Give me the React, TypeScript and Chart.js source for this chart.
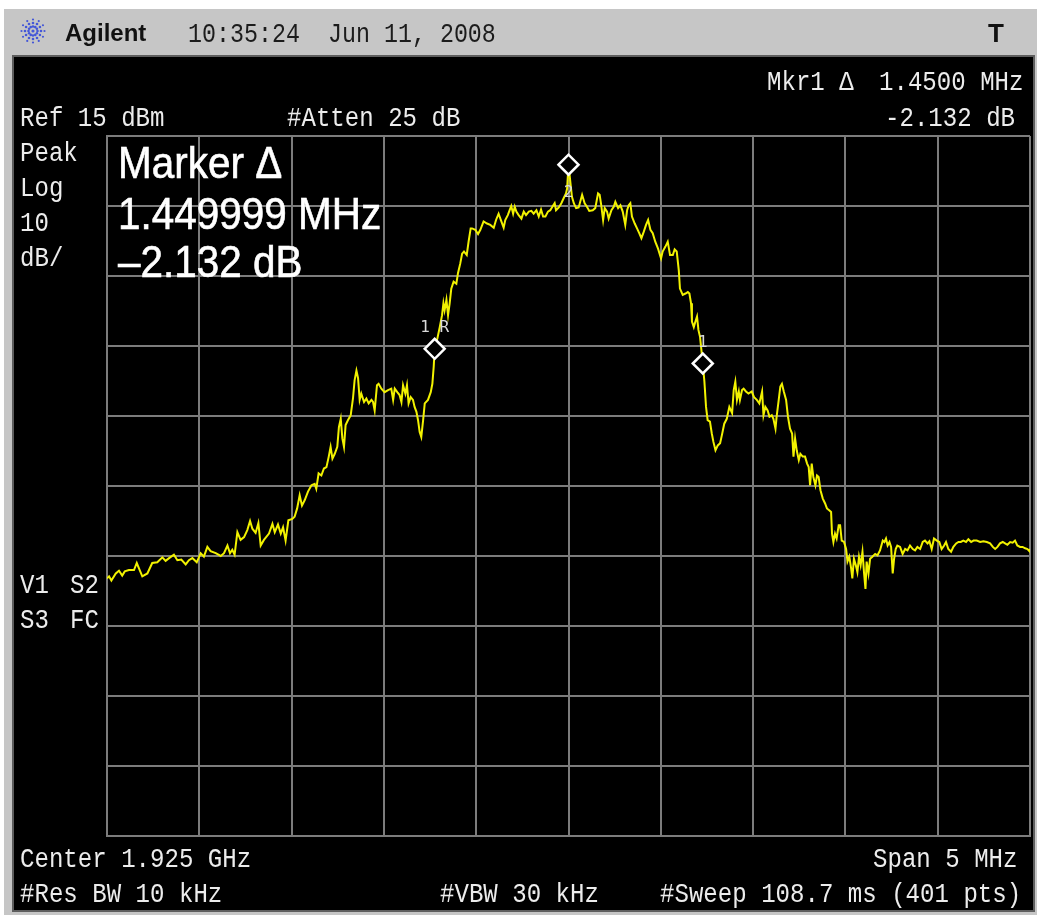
import React, { useEffect, useRef } from "react";
import { Chart, registerables } from "chart.js";

Chart.register(...registerables);

const tracePoint = [
  0, 0.9, 1.9, 3.8, 5.2, 6.6, 7.7, 9.5, 11.7, 12.9, 13.9, 15.3, 17.5, 19.6, 21.8, 24.0, 25.4, 26.9, 29.0, 30.5,
  32.2, 34.1, 35.5, 37.0, 38.9, 40.6, 42.0, 43.5, 44.9, 47.1, 49.3, 50.7, 52.2, 53.3, 54.3, 55.3, 56.5, 57.9, 59.4, 60.8,
  62.0, 63.0, 64.4, 65.6, 66.6, 68.0, 70.2, 71.7, 72.7, 74.1, 75.3, 76.3, 77.4, 78.6, 80.3,
  81.3, 82.4, 83.5, 84.5, 85.7, 87.1, 88.6, 90.0, 90.7, 91.7, 92.9, 94.0, 95.1, 96.1, 96.9, 97.7, 98.7, 99.8, 100.5, 101.3,
  102.0, 102.7, 103.4, 104.4, 105.6, 106.6, 107.3, 108.1, 108.8, 109.5, 110.2, 111.4, 112.4, 113.4, 114.6, 115.3, 116.0, 117.0, 117.7, 118.9,
  120.3, 121.8, 123.2, 124.0, 124.7, 125.8, 126.8, 127.6, 128.3, 129.3, 130.0, 130.7, 131.6, 132.6, 133.3, 134.1, 134.8, 135.5, 136.2, 137.0,
  137.7, 139.1, 140.3, 141.0, 141.6, 142.0, 142.5, 143.2, 144.2, 145.2, 145.8, 146.3, 147.1, 147.8, 148.5, 149.2, 150.2, 151.4, 152.1, 153.1,
  153.9, 154.7, 155.9, 156.7, 157.6,
  158.2, 159.6, 160.8, 161.8, 163.2, 164.7, 166.1, 167.6, 168.6, 169.7, 170.9, 171.9, 172.6, 173.7, 174.5, 175.2, 176.0, 176.7, 177.4, 178.4,
  179.6, 180.6, 181.6, 182.8, 183.9, 184.9, 186.1, 187.1, 188.1, 189.0, 190.0, 191.1, 192.1, 193.2, 194.0, 194.6, 195.8, 196.9, 197.9, 198.9,
  199.4, 200.0, 201.0, 201.5, 202.3, 203.3, 204.4, 205.9, 207.0, 208.0, 209.0, 210.5, 211.6, 212.8, 213.5, 214.2, 215.0, 215.7, 216.7, 217.4,
  218.6, 219.6, 220.3, 221.5, 222.5, 223.5, 224.6, 225.4, 226.1, 226.8, 227.5, 228.7, 229.7, 230.7, 231.6, 232.6, 233.6, 234.5, 235.5, 236.5,
  237.6, 238.8,
  240.1, 240.8, 242.0, 243.0, 244.0, 245.2, 246.0, 246.9, 247.8, 248.3, 249.5, 250.7, 251.7, 252.4, 253.1, 253.5, 254.3, 255.0, 255.7, 256.3,
  257.0, 257.6, 258.2, 258.9, 259.6, 260.3, 261.3, 262.1, 262.8, 263.7, 264.7, 265.7, 266.5, 267.5, 268.6, 269.7, 270.9, 271.6, 272.3, 273.0,
  273.8, 274.3, 275.2, 275.9, 276.9, 278.0, 279.4, 280.4, 281.6, 282.7, 283.9, 284.5, 285.3, 286.3, 287.1, 288.1, 288.8, 289.7, 290.2, 291.1,
  291.8, 292.5, 293.3, 294.3, 295.1, 296.0, 296.9, 297.5, 298.2, 298.9, 299.8, 300.5, 301.5, 302.5, 303.4, 304.1, 304.7, 305.4, 306.1, 307.0,
  307.7, 308.4, 309.2, 310.2, 311.2, 312.0, 313.1, 313.8, 314.2, 314.8, 315.5, 316.2, 317.1,
  317.7, 318.4, 319.4, 320.3, 320.9, 321.7, 322.5, 323.0, 323.7, 324.5, 325.2, 325.9, 326.6, 327.4, 328.1, 328.7, 329.2, 330.0, 330.7, 331.7,
  332.9, 333.9, 335.0, 336.2, 336.9, 337.6, 338.3, 339.1, 339.8, 340.5, 341.1, 341.8, 342.5, 343.7, 344.8, 345.9, 346.9, 348.0, 349.2, 350.2,
  351.2, 352.4, 353.5, 354.5, 355.6, 356.4, 357.4, 358.4, 359.6, 360.7, 361.7, 362.8, 363.6, 364.6, 365.8, 366.8, 368.0, 369.0, 370.0, 371.1,
  372.3, 373.3, 374.5, 375.5, 376.9, 378.4, 379.8, 381.3, 382.7, 383.9, 384.9, 385.9, 387.0, 388.2, 389.2, 390.2, 391.4, 392.5, 393.5, 394.5,
  395.7, 396.8, 397.9, 398.9, 399.7, 400.0,
];

const traceLevel = [
  -48.2, -47.9, -48.5, -47.5, -47.1, -47.8, -47.2, -47.0, -47.0, -46.0, -46.8, -47.9, -47.5, -46.0, -45.9, -45.2, -45.7, -45.3, -44.8, -45.6,
  -45.5, -46.2, -45.6, -45.3, -45.9, -44.6, -45.1, -43.7, -44.3, -44.6, -45.0, -44.6, -43.5, -44.6, -44.1, -44.8, -41.6, -42.7, -42.3, -41.3,
  -40.0, -41.1, -41.7, -40.3, -43.5, -42.7, -41.8, -40.4, -41.6, -40.5, -41.8, -40.9, -42.8, -39.9, -39.7,
  -39.4, -38.2, -36.3, -37.8, -37.0, -35.8, -34.9, -34.7, -35.4, -33.2, -33.5, -32.5, -32.3, -30.8, -29.4, -31.1, -30.4, -29.4, -26.6, -25.4,
  -28.2, -29.4, -26.3, -25.6, -24.9, -22.5, -19.9, -18.5, -19.6, -22.7, -21.8, -23.0, -22.5, -23.2, -22.7, -23.0, -24.2, -20.6, -20.4, -21.1,
  -21.6, -21.3, -21.1, -22.7, -21.1, -21.6, -22.0, -23.0, -20.6, -21.8, -20.6, -23.2, -22.3, -22.7, -23.7, -24.4, -25.6, -27.3, -28.0, -25.6,
  -23.2, -22.7, -21.6, -20.4, -17.9, -15.4, -14.6, -13.9, -12.3, -10.6, -8.9, -9.9, -8.4, -10.6, -8.9, -6.8, -5.8, -6.1, -4.6, -3.2,
  -1.8, -1.5, -2.0, -0.1, 1.8,
  1.8, 1.6, 1.0, 1.6, 2.8, 2.5, 2.3, 1.9, 3.0, 3.9, 2.8, 1.9, 3.0, 3.7, 4.4, 5.0, 3.9, 4.9, 4.2, 3.7,
  3.2, 4.2, 3.7, 4.2, 4.3, 3.9, 4.4, 3.5, 4.5, 3.5, 3.5, 4.2, 4.4, 5.0, 5.4, 4.4, 4.8, 5.4, 6.1, 6.8,
  7.5, 10.9, 7.8, 6.3, 5.4, 4.7, 4.8, 6.6, 5.4, 4.9, 4.3, 4.4, 4.7, 6.8, 6.6, 5.1, 3.0, 4.7, 4.2, 3.2,
  4.4, 4.9, 5.6, 4.7, 5.1, 4.2, 2.3, 4.4, 5.1, 5.4, 3.5, 2.5, 1.8, 1.1, 0.4, 1.3, 2.3, 3.0, 1.6, 1.1,
  -0.1, -1.1,
  -2.5, -1.5, -0.8, -0.1, -2.0, -2.0, -1.2, -1.5, -4.2, -6.8, -7.7, -7.5, -7.3, -7.5, -8.9, -11.5, -12.3, -11.5, -10.8, -12.7,
  -13.7, -15.6, -17.5, -20.1, -23.7, -25.6, -25.8, -27.5, -28.7, -29.9, -29.2, -28.9, -27.7, -26.1, -25.4, -23.7, -24.6, -21.3, -20.1, -22.7,
  -21.5, -22.7, -21.3, -21.1, -21.5, -21.8, -21.5, -22.3, -22.7, -23.2, -21.5, -24.9, -23.7, -24.2, -25.1, -24.9, -25.4, -26.8, -25.1, -22.7,
  -20.8, -20.4, -21.5, -22.7, -25.1, -26.8, -27.5, -30.8, -28.2, -29.9, -31.3, -30.4, -30.8, -30.8, -31.8, -32.3, -34.9, -31.8, -33.7, -34.9,
  -33.5, -33.7, -35.6, -36.8, -37.5, -38.2, -38.5, -38.7, -41.8, -43.0, -41.8, -42.5, -40.6,
  -40.6, -42.8, -43.0, -44.0, -45.8, -45.1, -46.8, -48.2, -45.4, -46.3, -47.3, -45.1, -46.3, -44.4, -47.5, -49.7, -45.8, -47.5, -45.4, -45.1,
  -44.7, -44.9, -44.2, -42.8, -43.0, -42.5, -43.5, -43.0, -43.7, -47.5, -45.4, -44.0, -43.5, -43.7, -44.7, -44.0, -44.2, -43.5, -44.0, -44.2,
  -43.7, -44.0, -43.0, -42.8, -43.2, -42.9, -44.0, -42.5, -42.8, -43.0, -44.0, -43.5, -43.0, -44.0, -44.4, -43.7, -43.2, -43.0, -43.0, -42.8,
  -43.0, -42.6, -43.0, -42.8, -42.8, -43.0, -42.9, -43.0, -43.2, -43.7, -44.0, -43.7, -43.2, -43.0, -43.2, -43.4, -43.0, -43.1, -42.8, -43.5,
  -43.7, -43.7, -43.9, -44.0, -44.3, -44.0,
];

// Markers: 1R (reference), 2 (peak), 1 (delta)
const markerPoint = [142, 200, 258.2];
const markerLevel = [-15.4, 10.9, -17.5];
const markerName = ["1 R", "2", "1"];

// Screen scaling
const refLevelDbm = 15;
const dbPerDiv = 10;
const verticalDivs = 10;
const lastPoint = 400;
const horizontalDivs = 10;

const SMALL = { fontFamily: "Liberation Mono", fontSize: 28 };
const SCREEN_TEXT = "#ececec";

function MonoText({ x, y, children, sx = 0.86, fill = SCREEN_TEXT }: any) {
  return (
    <text
      transform={`translate(${x},${y}) scale(${sx},1)`}
      fontFamily={SMALL.fontFamily}
      fontSize={SMALL.fontSize}
      fill={fill}
      style={{ whiteSpace: "pre" }}
    >
      {children}
    </text>
  );
}

function BigText({ x, y, children }: any) {
  return (
    <text
      transform={`translate(${x},${y}) scale(0.92,1)`}
      fontFamily="Liberation Sans"
      fontSize={44}
      fill="#ffffff"
      stroke="#ffffff"
      strokeWidth={0.6}
    >
      {children}
    </text>
  );
}

function Logo() {
  const dots: any[] = [];
  for (let k = 0; k < 12; k++) {
    const a = (k * Math.PI) / 6;
    [4.5, 8, 11.5].forEach((r, j) => {
      dots.push(
        <circle key={`${k}-${j}`} cx={33 + r * Math.cos(a)} cy={31 + r * Math.sin(a)} r={j === 2 ? 1.1 : 1.3} fill="#4457d8" />
      );
    });
  }
  return (
    <g>
      <circle cx={33} cy={31} r={1.6} fill="#4457d8" />
      {dots}
    </g>
  );
}

export default function App() {
  const canvasRef = useRef<HTMLCanvasElement>(null);

  useEffect(() => {
    const canvas = canvasRef.current;
    if (!canvas) return;

    const markerLabels = {
      id: "markerLabels",
      afterDatasetsDraw(chart: any) {
        const { ctx, chartArea, scales } = chart;
        ctx.save();
        ctx.fillStyle = "#dadada";
        ctx.font = '16px "DejaVu Sans Mono"';
        ctx.textAlign = "center";
        ctx.textBaseline = "alphabetic";
        markerPoint.forEach((p, i) => {
          const px = scales.x.getPixelForValue(p);
          const py = scales.y.getPixelForValue(markerLevel[i]);
          const below = py - chartArea.top < 40;
          ctx.fillText(markerName[i], px, below ? py + 32 : py - 17);
        });
        ctx.restore();
      },
    };

    const gridColor = "#7c7c7c";
    const chart = new Chart(canvas, {
      type: "line",
      data: {
        datasets: [
          {
            label: "Markers",
            data: markerPoint.map((p, i) => ({ x: p, y: markerLevel[i] })),
            showLine: false,
            pointStyle: "rectRot",
            pointRadius: 10,
            pointBorderWidth: 2.5,
            pointBorderColor: "#ffffff",
            pointBackgroundColor: "#000000",
          },
          {
            label: "Trace 1",
            data: tracePoint.map((p, i) => ({ x: p, y: traceLevel[i] })),
            borderColor: "#f2f200",
            borderWidth: 2,
            pointRadius: 0,
            tension: 0,
            fill: false,
          },
        ],
      },
      options: {
        animation: false,
        responsive: false,
        events: [],
        layout: { autoPadding: false, padding: { left: 107, right: 7, top: 136, bottom: 81 } },
        plugins: { legend: { display: false }, tooltip: { enabled: false } },
        scales: {
          x: {
            type: "linear",
            min: 0,
            max: lastPoint,
            ticks: { display: false, stepSize: lastPoint / horizontalDivs },
            grid: { color: gridColor, lineWidth: 2, drawTicks: false },
            border: { display: true, color: gridColor, width: 2 },
          },
          y: {
            type: "linear",
            min: refLevelDbm - dbPerDiv * verticalDivs,
            max: refLevelDbm,
            ticks: { display: false, stepSize: dbPerDiv },
            grid: { color: gridColor, lineWidth: 2, drawTicks: false },
            border: { display: true, color: gridColor, width: 2 },
          },
        },
      },
      plugins: [markerLabels],
    } as any);

    return () => chart.destroy();
  }, []);

  return (
    <div style={{ position: "absolute", left: 0, top: 0, width: 1037, height: 917, background: "#ffffff", overflow: "hidden" }}>
      <svg width={1037} height={917} style={{ position: "absolute", left: 0, top: 0 }}>
        <rect x={4} y={9} width={1033} height={906} fill="#c6c6c6" />
        <rect x={13} y={56} width={1021} height={855} fill="#000000" stroke="#5e5e5e" strokeWidth={2} />
      </svg>
      <canvas
        ref={canvasRef}
        width={1037}
        height={917}
        style={{ position: "absolute", left: 0, top: 0, width: 1037, height: 917 }}
      />
      <svg width={1037} height={917} style={{ position: "absolute", left: 0, top: 0 }}>
        <Logo />
        <text x={65} y={41} fontFamily="Liberation Sans" fontWeight="bold" fontSize={24} fill="#111111">
          Agilent
        </text>
        <MonoText x={188} y={42} sx={0.833} fill="#1c1c1c">10:35:24</MonoText>
        <MonoText x={328} y={42} sx={0.833} fill="#1c1c1c">Jun 11, 2008</MonoText>
        <text x={988} y={42} fontFamily="Liberation Sans" fontWeight="bold" fontSize={26} fill="#111111">
          T
        </text>

        <MonoText x={767} y={90}>Mkr1 Δ</MonoText>
        <MonoText x={879} y={90}>1.4500 MHz</MonoText>
        <MonoText x={20} y={126}>Ref 15 dBm</MonoText>
        <MonoText x={287} y={126}>#Atten 25 dB</MonoText>
        <MonoText x={885} y={126}>-2.132 dB</MonoText>

        <MonoText x={20} y={161}>Peak</MonoText>
        <MonoText x={20} y={196}>Log</MonoText>
        <MonoText x={20} y={231}>10</MonoText>
        <MonoText x={20} y={266}>dB/</MonoText>

        <MonoText x={20} y={593}>V1</MonoText>
        <MonoText x={70} y={593}>S2</MonoText>
        <MonoText x={20} y={628}>S3</MonoText>
        <MonoText x={70} y={628}>FC</MonoText>

        <MonoText x={20} y={867}>Center 1.925 GHz</MonoText>
        <MonoText x={873} y={867}>Span 5 MHz</MonoText>
        <MonoText x={20} y={902}>#Res BW 10 kHz</MonoText>
        <MonoText x={440} y={902}>#VBW 30 kHz</MonoText>
        <MonoText x={660} y={902}>#Sweep 108.7 ms (401 pts)</MonoText>

        <BigText x={118} y={178}>Marker Δ</BigText>
        <BigText x={118} y={229}>1.449999 MHz</BigText>
        <BigText x={118} y={277}>–2.132 dB</BigText>
      </svg>
    </div>
  );
}
